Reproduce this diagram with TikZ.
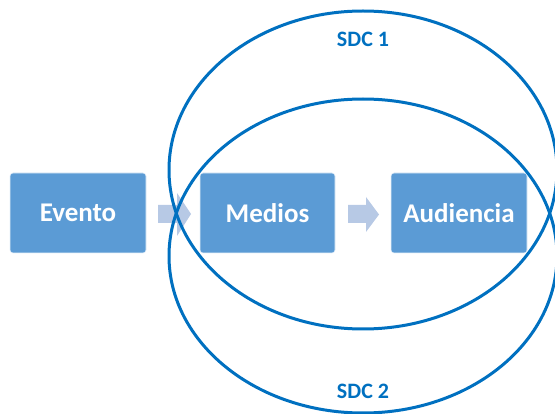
\documentclass[tikz,border=0pt]{standalone}
\usepackage{fontspec}
\setmainfont{Carlito}
\definecolor{boxblue}{RGB}{91,155,213}
\definecolor{arrowblue}{RGB}{183,201,229}
\definecolor{sdcblue}{RGB}{0,112,192}

\begin{document}
\begin{tikzpicture}[x=1pt,y=-1pt,
  stage/.style={fill=boxblue,draw=white!85!boxblue,line width=0.6pt,rounded corners=3pt,
    minimum width=136pt,minimum height=80pt,inner sep=0pt,text=white,
    font=\fontsize{27}{32}\selectfont\bfseries},
  sdc/.style={draw=sdcblue,line width=3pt},
  sdclabel/.style={text=sdcblue,font=\fontsize{22}{26}\selectfont\bfseries,inner sep=0pt}]
\useasboundingbox (0,0) rectangle (555,414);
% stages
\node[stage] (evento) at (78,213) {Evento};
\node[stage,minimum width=135pt] (medios) at (267.5,213) {Medios};
\node[stage] (audiencia) at (459,213) {Audiencia};
% block arrows
\fill[arrowblue] (158,205) -- (177,205) -- (177,193) -- (191,214) -- (177,236) -- (177,223) -- (158,223) -- cycle;
\fill[arrowblue] (348,205) -- (366,205) -- (366,197) -- (379,214.5) -- (366,232) -- (366,223) -- (348,223) -- cycle;
% systems
\draw[sdc] (363,170) ellipse [x radius=194pt,y radius=159pt];
\draw[sdc] (363,256) ellipse [x radius=194pt,y radius=157pt];
\node[sdclabel] (sdc1) at (363,39) {SDC 1};
\node[sdclabel] (sdc2) at (363,391) {SDC 2};
\end{tikzpicture}
\end{document}
